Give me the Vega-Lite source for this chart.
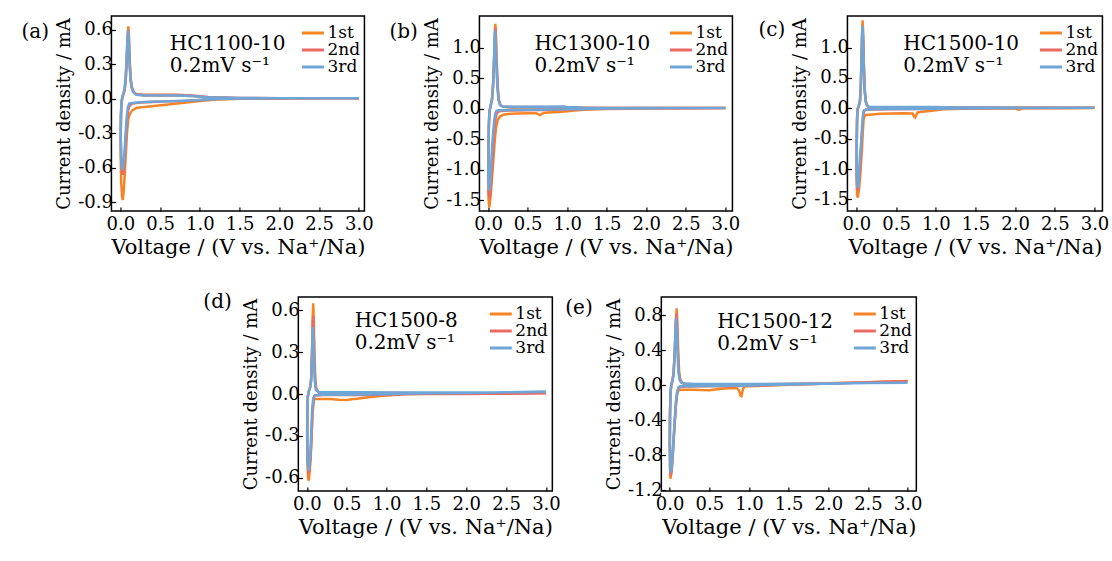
{
"$schema": "https://vega.github.io/schema/vega-lite/v6.json",
"padding": {"left": 20, "top": 15, "right": 0, "bottom": 0},
"config": {
  "font": "DejaVu Serif, serif",
  "locale": {"number": {"decimal": ".", "thousands": ",", "grouping": [3], "currency": ["$", ""], "minus": "-"}},
  "view": {"stroke": "black", "strokeWidth": 1.5},
  "axis": {"labelFont": "DejaVu Serif, serif", "labelFontSize": 18, "titleFont": "DejaVu Serif, serif", "titleFontSize": 21, "titleFontWeight": "normal", "labelColor": "black", "titleColor": "black", "tickColor": "black", "tickWidth": 1.2, "domain": false, "grid": false, "tickSize": -4, "tickCount": 20, "labelPadding": 3, "titlePadding": 3, "labelFlush": false, "labelOverlap": false, "labelBound": false},
  "axisX": {"labelPadding": 8},
  "axisY": {"titleFontSize": 18, "titlePadding": 4},
  "legend": {"orient": "top-right", "offset": 4, "symbolType": "stroke", "symbolSize": 484, "symbolStrokeWidth": 3, "labelFont": "DejaVu Serif, serif", "labelFontSize": 17, "labelColor": "black", "labelOffset": 2, "rowPadding": 0, "clipHeight": 12, "padding": 0, "titleFontSize": 7, "titlePadding": 0},
  "text": {"font": "DejaVu Serif, serif", "fontSize": 20, "color": "black"}
},
"datasets": {
"a": [
{"cycle":"1st","V":3.0,"I":0.005},{"cycle":"1st","V":2.5,"I":0.004},{"cycle":"1st","V":2.0,"I":0.002},{"cycle":"1st","V":1.5,"I":0.0},{"cycle":"1st","V":1.2,"I":-0.005},{"cycle":"1st","V":1.0,"I":-0.018},{"cycle":"1st","V":0.8,"I":-0.035},{"cycle":"1st","V":0.6,"I":-0.05},{"cycle":"1st","V":0.45,"I":-0.06},{"cycle":"1st","V":0.3,"I":-0.07},{"cycle":"1st","V":0.2,"I":-0.08},{"cycle":"1st","V":0.15,"I":-0.1},{"cycle":"1st","V":0.12,"I":-0.13},{"cycle":"1st","V":0.1,"I":-0.17},{"cycle":"1st","V":0.085,"I":-0.28},{"cycle":"1st","V":0.07,"I":-0.45},{"cycle":"1st","V":0.055,"I":-0.65},{"cycle":"1st","V":0.042,"I":-0.8},{"cycle":"1st","V":0.03,"I":-0.88},{"cycle":"1st","V":0.02,"I":-0.85},{"cycle":"1st","V":0.01,"I":-0.72},{"cycle":"1st","V":0.003,"I":-0.5},{"cycle":"1st","V":0.005,"I":-0.25},{"cycle":"1st","V":0.012,"I":-0.06},{"cycle":"1st","V":0.025,"I":0.01},{"cycle":"1st","V":0.04,"I":0.04},{"cycle":"1st","V":0.055,"I":0.08},{"cycle":"1st","V":0.07,"I":0.2},{"cycle":"1st","V":0.082,"I":0.4},{"cycle":"1st","V":0.093,"I":0.57},{"cycle":"1st","V":0.1,"I":0.63},{"cycle":"1st","V":0.107,"I":0.55},{"cycle":"1st","V":0.117,"I":0.33},{"cycle":"1st","V":0.13,"I":0.17},{"cycle":"1st","V":0.145,"I":0.1},{"cycle":"1st","V":0.165,"I":0.06},{"cycle":"1st","V":0.2,"I":0.04},{"cycle":"1st","V":0.3,"I":0.03},{"cycle":"1st","V":0.5,"I":0.03},{"cycle":"1st","V":0.7,"I":0.03},{"cycle":"1st","V":0.9,"I":0.025},{"cycle":"1st","V":1.1,"I":0.012},{"cycle":"1st","V":1.5,"I":0.006},{"cycle":"1st","V":2.0,"I":0.005},{"cycle":"1st","V":2.5,"I":0.005},{"cycle":"1st","V":3.0,"I":0.005},
{"cycle":"2nd","V":3.0,"I":0.005},{"cycle":"2nd","V":2.5,"I":0.004},{"cycle":"2nd","V":2.0,"I":0.003},{"cycle":"2nd","V":1.5,"I":0.001},{"cycle":"2nd","V":1.2,"I":-0.002},{"cycle":"2nd","V":1.0,"I":-0.01},{"cycle":"2nd","V":0.8,"I":-0.018},{"cycle":"2nd","V":0.6,"I":-0.022},{"cycle":"2nd","V":0.4,"I":-0.027},{"cycle":"2nd","V":0.25,"I":-0.032},{"cycle":"2nd","V":0.15,"I":-0.04},{"cycle":"2nd","V":0.12,"I":-0.055},{"cycle":"2nd","V":0.1,"I":-0.09},{"cycle":"2nd","V":0.085,"I":-0.18},{"cycle":"2nd","V":0.07,"I":-0.33},{"cycle":"2nd","V":0.055,"I":-0.5},{"cycle":"2nd","V":0.042,"I":-0.62},{"cycle":"2nd","V":0.03,"I":-0.66},{"cycle":"2nd","V":0.02,"I":-0.63},{"cycle":"2nd","V":0.01,"I":-0.52},{"cycle":"2nd","V":0.004,"I":-0.35},{"cycle":"2nd","V":0.006,"I":-0.15},{"cycle":"2nd","V":0.013,"I":-0.03},{"cycle":"2nd","V":0.025,"I":0.02},{"cycle":"2nd","V":0.04,"I":0.05},{"cycle":"2nd","V":0.055,"I":0.09},{"cycle":"2nd","V":0.07,"I":0.2},{"cycle":"2nd","V":0.082,"I":0.38},{"cycle":"2nd","V":0.092,"I":0.54},{"cycle":"2nd","V":0.098,"I":0.6},{"cycle":"2nd","V":0.106,"I":0.52},{"cycle":"2nd","V":0.116,"I":0.32},{"cycle":"2nd","V":0.128,"I":0.17},{"cycle":"2nd","V":0.143,"I":0.1},{"cycle":"2nd","V":0.163,"I":0.06},{"cycle":"2nd","V":0.2,"I":0.04},{"cycle":"2nd","V":0.3,"I":0.035},{"cycle":"2nd","V":0.5,"I":0.035},{"cycle":"2nd","V":0.7,"I":0.035},{"cycle":"2nd","V":0.9,"I":0.03},{"cycle":"2nd","V":1.1,"I":0.015},{"cycle":"2nd","V":1.5,"I":0.008},{"cycle":"2nd","V":2.0,"I":0.006},{"cycle":"2nd","V":2.5,"I":0.006},{"cycle":"2nd","V":3.0,"I":0.006},
{"cycle":"3rd","V":3.0,"I":0.006},{"cycle":"3rd","V":2.5,"I":0.005},{"cycle":"3rd","V":2.0,"I":0.004},{"cycle":"3rd","V":1.5,"I":0.002},{"cycle":"3rd","V":1.2,"I":-0.002},{"cycle":"3rd","V":1.0,"I":-0.01},{"cycle":"3rd","V":0.8,"I":-0.016},{"cycle":"3rd","V":0.6,"I":-0.02},{"cycle":"3rd","V":0.36,"I":-0.026},{"cycle":"3rd","V":0.2,"I":-0.032},{"cycle":"3rd","V":0.113,"I":-0.04},{"cycle":"3rd","V":0.095,"I":-0.07},{"cycle":"3rd","V":0.08,"I":-0.15},{"cycle":"3rd","V":0.065,"I":-0.3},{"cycle":"3rd","V":0.052,"I":-0.45},{"cycle":"3rd","V":0.04,"I":-0.57},{"cycle":"3rd","V":0.03,"I":-0.62},{"cycle":"3rd","V":0.02,"I":-0.6},{"cycle":"3rd","V":0.01,"I":-0.5},{"cycle":"3rd","V":0.004,"I":-0.33},{"cycle":"3rd","V":0.006,"I":-0.14},{"cycle":"3rd","V":0.013,"I":-0.03},{"cycle":"3rd","V":0.025,"I":0.02},{"cycle":"3rd","V":0.038,"I":0.046},{"cycle":"3rd","V":0.052,"I":0.09},{"cycle":"3rd","V":0.066,"I":0.2},{"cycle":"3rd","V":0.079,"I":0.37},{"cycle":"3rd","V":0.089,"I":0.52},{"cycle":"3rd","V":0.096,"I":0.595},{"cycle":"3rd","V":0.104,"I":0.52},{"cycle":"3rd","V":0.114,"I":0.32},{"cycle":"3rd","V":0.126,"I":0.17},{"cycle":"3rd","V":0.141,"I":0.1},{"cycle":"3rd","V":0.16,"I":0.06},{"cycle":"3rd","V":0.2,"I":0.035},{"cycle":"3rd","V":0.3,"I":0.03},{"cycle":"3rd","V":0.5,"I":0.03},{"cycle":"3rd","V":0.7,"I":0.03},{"cycle":"3rd","V":0.9,"I":0.025},{"cycle":"3rd","V":1.1,"I":0.014},{"cycle":"3rd","V":1.5,"I":0.008},{"cycle":"3rd","V":2.0,"I":0.006},{"cycle":"3rd","V":2.5,"I":0.006},{"cycle":"3rd","V":3.0,"I":0.006}
],
"b": [
{"cycle":"1st","V":3.0,"I":0.01},{"cycle":"1st","V":2.5,"I":0.006},{"cycle":"1st","V":2.0,"I":0.002},{"cycle":"1st","V":1.5,"I":-0.005},{"cycle":"1st","V":1.2,"I":-0.02},{"cycle":"1st","V":1.1,"I":-0.03},{"cycle":"1st","V":0.9,"I":-0.055},{"cycle":"1st","V":0.75,"I":-0.065},{"cycle":"1st","V":0.7,"I":-0.072},{"cycle":"1st","V":0.67,"I":-0.095},{"cycle":"1st","V":0.655,"I":-0.105},{"cycle":"1st","V":0.635,"I":-0.095},{"cycle":"1st","V":0.61,"I":-0.075},{"cycle":"1st","V":0.5,"I":-0.075},{"cycle":"1st","V":0.36,"I":-0.08},{"cycle":"1st","V":0.25,"I":-0.09},{"cycle":"1st","V":0.19,"I":-0.1},{"cycle":"1st","V":0.15,"I":-0.13},{"cycle":"1st","V":0.12,"I":-0.19},{"cycle":"1st","V":0.1,"I":-0.32},{"cycle":"1st","V":0.085,"I":-0.5},{"cycle":"1st","V":0.07,"I":-0.78},{"cycle":"1st","V":0.05,"I":-1.12},{"cycle":"1st","V":0.03,"I":-1.45},{"cycle":"1st","V":0.015,"I":-1.62},{"cycle":"1st","V":0.006,"I":-1.5},{"cycle":"1st","V":0.002,"I":-1.2},{"cycle":"1st","V":0.004,"I":-0.7},{"cycle":"1st","V":0.009,"I":-0.3},{"cycle":"1st","V":0.016,"I":-0.06},{"cycle":"1st","V":0.03,"I":0.04},{"cycle":"1st","V":0.048,"I":0.14},{"cycle":"1st","V":0.062,"I":0.38},{"cycle":"1st","V":0.074,"I":0.75},{"cycle":"1st","V":0.084,"I":1.15},{"cycle":"1st","V":0.091,"I":1.39},{"cycle":"1st","V":0.098,"I":1.25},{"cycle":"1st","V":0.107,"I":0.85},{"cycle":"1st","V":0.12,"I":0.4},{"cycle":"1st","V":0.135,"I":0.15},{"cycle":"1st","V":0.155,"I":0.06},{"cycle":"1st","V":0.19,"I":0.03},{"cycle":"1st","V":0.3,"I":0.02},{"cycle":"1st","V":0.5,"I":0.02},{"cycle":"1st","V":0.8,"I":0.02},{"cycle":"1st","V":1.0,"I":0.02},{"cycle":"1st","V":1.2,"I":0.012},{"cycle":"1st","V":1.5,"I":0.01},{"cycle":"1st","V":2.0,"I":0.01},{"cycle":"1st","V":2.5,"I":0.01},{"cycle":"1st","V":3.0,"I":0.01},
{"cycle":"2nd","V":3.0,"I":0.01},{"cycle":"2nd","V":2.5,"I":0.008},{"cycle":"2nd","V":2.0,"I":0.005},{"cycle":"2nd","V":1.5,"I":0.0},{"cycle":"2nd","V":1.2,"I":-0.008},{"cycle":"2nd","V":1.0,"I":-0.015},{"cycle":"2nd","V":0.8,"I":-0.02},{"cycle":"2nd","V":0.5,"I":-0.025},{"cycle":"2nd","V":0.3,"I":-0.03},{"cycle":"2nd","V":0.2,"I":-0.035},{"cycle":"2nd","V":0.14,"I":-0.045},{"cycle":"2nd","V":0.11,"I":-0.07},{"cycle":"2nd","V":0.095,"I":-0.15},{"cycle":"2nd","V":0.08,"I":-0.32},{"cycle":"2nd","V":0.065,"I":-0.6},{"cycle":"2nd","V":0.05,"I":-0.95},{"cycle":"2nd","V":0.035,"I":-1.25},{"cycle":"2nd","V":0.02,"I":-1.45},{"cycle":"2nd","V":0.01,"I":-1.43},{"cycle":"2nd","V":0.004,"I":-1.2},{"cycle":"2nd","V":0.004,"I":-0.7},{"cycle":"2nd","V":0.009,"I":-0.3},{"cycle":"2nd","V":0.016,"I":-0.06},{"cycle":"2nd","V":0.03,"I":0.04},{"cycle":"2nd","V":0.048,"I":0.14},{"cycle":"2nd","V":0.062,"I":0.37},{"cycle":"2nd","V":0.074,"I":0.73},{"cycle":"2nd","V":0.083,"I":1.1},{"cycle":"2nd","V":0.089,"I":1.33},{"cycle":"2nd","V":0.096,"I":1.2},{"cycle":"2nd","V":0.105,"I":0.82},{"cycle":"2nd","V":0.118,"I":0.38},{"cycle":"2nd","V":0.133,"I":0.15},{"cycle":"2nd","V":0.152,"I":0.06},{"cycle":"2nd","V":0.19,"I":0.03},{"cycle":"2nd","V":0.3,"I":0.025},{"cycle":"2nd","V":0.5,"I":0.025},{"cycle":"2nd","V":0.8,"I":0.025},{"cycle":"2nd","V":1.0,"I":0.022},{"cycle":"2nd","V":1.2,"I":0.014},{"cycle":"2nd","V":1.5,"I":0.01},{"cycle":"2nd","V":2.0,"I":0.01},{"cycle":"2nd","V":2.5,"I":0.01},{"cycle":"2nd","V":3.0,"I":0.01},
{"cycle":"3rd","V":3.0,"I":0.012},{"cycle":"3rd","V":2.5,"I":0.01},{"cycle":"3rd","V":2.0,"I":0.006},{"cycle":"3rd","V":1.5,"I":0.002},{"cycle":"3rd","V":1.2,"I":-0.005},{"cycle":"3rd","V":1.0,"I":-0.01},{"cycle":"3rd","V":0.8,"I":-0.015},{"cycle":"3rd","V":0.5,"I":-0.02},{"cycle":"3rd","V":0.2,"I":-0.025},{"cycle":"3rd","V":0.13,"I":-0.028},{"cycle":"3rd","V":0.105,"I":-0.035},{"cycle":"3rd","V":0.09,"I":-0.08},{"cycle":"3rd","V":0.078,"I":-0.18},{"cycle":"3rd","V":0.066,"I":-0.35},{"cycle":"3rd","V":0.055,"I":-0.52},{"cycle":"3rd","V":0.045,"I":-0.75},{"cycle":"3rd","V":0.035,"I":-1.0},{"cycle":"3rd","V":0.024,"I":-1.22},{"cycle":"3rd","V":0.015,"I":-1.34},{"cycle":"3rd","V":0.007,"I":-1.25},{"cycle":"3rd","V":0.003,"I":-0.95},{"cycle":"3rd","V":0.005,"I":-0.55},{"cycle":"3rd","V":0.01,"I":-0.2},{"cycle":"3rd","V":0.018,"I":-0.03},{"cycle":"3rd","V":0.032,"I":0.05},{"cycle":"3rd","V":0.049,"I":0.15},{"cycle":"3rd","V":0.062,"I":0.38},{"cycle":"3rd","V":0.073,"I":0.75},{"cycle":"3rd","V":0.081,"I":1.1},{"cycle":"3rd","V":0.087,"I":1.28},{"cycle":"3rd","V":0.094,"I":1.15},{"cycle":"3rd","V":0.103,"I":0.78},{"cycle":"3rd","V":0.116,"I":0.37},{"cycle":"3rd","V":0.131,"I":0.14},{"cycle":"3rd","V":0.15,"I":0.06},{"cycle":"3rd","V":0.19,"I":0.03},{"cycle":"3rd","V":0.3,"I":0.03},{"cycle":"3rd","V":0.5,"I":0.03},{"cycle":"3rd","V":0.8,"I":0.032},{"cycle":"3rd","V":0.95,"I":0.035},{"cycle":"3rd","V":1.0,"I":0.025},{"cycle":"3rd","V":1.2,"I":0.015},{"cycle":"3rd","V":1.5,"I":0.012},{"cycle":"3rd","V":2.0,"I":0.012},{"cycle":"3rd","V":2.5,"I":0.012},{"cycle":"3rd","V":3.0,"I":0.012}
],
"c": [
{"cycle":"1st","V":3.0,"I":0.005},{"cycle":"1st","V":2.5,"I":0.003},{"cycle":"1st","V":2.1,"I":0.0},{"cycle":"1st","V":2.06,"I":-0.02},{"cycle":"1st","V":2.03,"I":-0.02},{"cycle":"1st","V":2.0,"I":0.0},{"cycle":"1st","V":1.5,"I":-0.003},{"cycle":"1st","V":1.2,"I":-0.01},{"cycle":"1st","V":1.1,"I":-0.016},{"cycle":"1st","V":0.95,"I":-0.04},{"cycle":"1st","V":0.8,"I":-0.06},{"cycle":"1st","V":0.77,"I":-0.07},{"cycle":"1st","V":0.755,"I":-0.11},{"cycle":"1st","V":0.74,"I":-0.15},{"cycle":"1st","V":0.725,"I":-0.13},{"cycle":"1st","V":0.71,"I":-0.085},{"cycle":"1st","V":0.6,"I":-0.08},{"cycle":"1st","V":0.45,"I":-0.085},{"cycle":"1st","V":0.3,"I":-0.09},{"cycle":"1st","V":0.2,"I":-0.1},{"cycle":"1st","V":0.12,"I":-0.11},{"cycle":"1st","V":0.1,"I":-0.13},{"cycle":"1st","V":0.09,"I":-0.2},{"cycle":"1st","V":0.08,"I":-0.4},{"cycle":"1st","V":0.071,"I":-0.65},{"cycle":"1st","V":0.055,"I":-0.98},{"cycle":"1st","V":0.035,"I":-1.3},{"cycle":"1st","V":0.018,"I":-1.47},{"cycle":"1st","V":0.008,"I":-1.42},{"cycle":"1st","V":0.002,"I":-1.1},{"cycle":"1st","V":0.004,"I":-0.6},{"cycle":"1st","V":0.008,"I":-0.2},{"cycle":"1st","V":0.015,"I":-0.02},{"cycle":"1st","V":0.03,"I":0.04},{"cycle":"1st","V":0.045,"I":0.12},{"cycle":"1st","V":0.055,"I":0.35},{"cycle":"1st","V":0.064,"I":0.8},{"cycle":"1st","V":0.072,"I":1.25},{"cycle":"1st","V":0.078,"I":1.45},{"cycle":"1st","V":0.085,"I":1.25},{"cycle":"1st","V":0.094,"I":0.75},{"cycle":"1st","V":0.105,"I":0.32},{"cycle":"1st","V":0.118,"I":0.12},{"cycle":"1st","V":0.135,"I":0.05},{"cycle":"1st","V":0.155,"I":0.02},{"cycle":"1st","V":0.3,"I":0.015},{"cycle":"1st","V":0.6,"I":0.015},{"cycle":"1st","V":1.0,"I":0.015},{"cycle":"1st","V":1.2,"I":0.012},{"cycle":"1st","V":1.5,"I":0.01},{"cycle":"1st","V":2.0,"I":0.008},{"cycle":"1st","V":2.5,"I":0.008},{"cycle":"1st","V":3.0,"I":0.008},
{"cycle":"2nd","V":3.0,"I":0.008},{"cycle":"2nd","V":2.5,"I":0.006},{"cycle":"2nd","V":2.0,"I":0.004},{"cycle":"2nd","V":1.5,"I":0.002},{"cycle":"2nd","V":1.2,"I":-0.003},{"cycle":"2nd","V":1.0,"I":-0.008},{"cycle":"2nd","V":0.7,"I":-0.012},{"cycle":"2nd","V":0.4,"I":-0.015},{"cycle":"2nd","V":0.2,"I":-0.02},{"cycle":"2nd","V":0.12,"I":-0.025},{"cycle":"2nd","V":0.1,"I":-0.035},{"cycle":"2nd","V":0.09,"I":-0.08},{"cycle":"2nd","V":0.08,"I":-0.2},{"cycle":"2nd","V":0.07,"I":-0.42},{"cycle":"2nd","V":0.058,"I":-0.7},{"cycle":"2nd","V":0.045,"I":-0.98},{"cycle":"2nd","V":0.03,"I":-1.22},{"cycle":"2nd","V":0.018,"I":-1.35},{"cycle":"2nd","V":0.009,"I":-1.3},{"cycle":"2nd","V":0.003,"I":-1.0},{"cycle":"2nd","V":0.005,"I":-0.5},{"cycle":"2nd","V":0.009,"I":-0.15},{"cycle":"2nd","V":0.016,"I":-0.01},{"cycle":"2nd","V":0.03,"I":0.04},{"cycle":"2nd","V":0.045,"I":0.12},{"cycle":"2nd","V":0.055,"I":0.33},{"cycle":"2nd","V":0.064,"I":0.75},{"cycle":"2nd","V":0.071,"I":1.15},{"cycle":"2nd","V":0.077,"I":1.33},{"cycle":"2nd","V":0.084,"I":1.15},{"cycle":"2nd","V":0.093,"I":0.7},{"cycle":"2nd","V":0.104,"I":0.3},{"cycle":"2nd","V":0.117,"I":0.11},{"cycle":"2nd","V":0.134,"I":0.05},{"cycle":"2nd","V":0.155,"I":0.02},{"cycle":"2nd","V":0.3,"I":0.018},{"cycle":"2nd","V":0.6,"I":0.018},{"cycle":"2nd","V":1.0,"I":0.018},{"cycle":"2nd","V":1.2,"I":0.014},{"cycle":"2nd","V":1.5,"I":0.012},{"cycle":"2nd","V":2.0,"I":0.01},{"cycle":"2nd","V":2.5,"I":0.01},{"cycle":"2nd","V":3.0,"I":0.01},
{"cycle":"3rd","V":3.0,"I":0.01},{"cycle":"3rd","V":2.5,"I":0.008},{"cycle":"3rd","V":2.0,"I":0.006},{"cycle":"3rd","V":1.5,"I":0.003},{"cycle":"3rd","V":1.2,"I":-0.002},{"cycle":"3rd","V":1.0,"I":-0.006},{"cycle":"3rd","V":0.7,"I":-0.01},{"cycle":"3rd","V":0.4,"I":-0.012},{"cycle":"3rd","V":0.2,"I":-0.015},{"cycle":"3rd","V":0.12,"I":-0.02},{"cycle":"3rd","V":0.092,"I":-0.04},{"cycle":"3rd","V":0.082,"I":-0.12},{"cycle":"3rd","V":0.072,"I":-0.3},{"cycle":"3rd","V":0.06,"I":-0.55},{"cycle":"3rd","V":0.05,"I":-0.7},{"cycle":"3rd","V":0.04,"I":-0.9},{"cycle":"3rd","V":0.028,"I":-1.15},{"cycle":"3rd","V":0.017,"I":-1.31},{"cycle":"3rd","V":0.009,"I":-1.27},{"cycle":"3rd","V":0.003,"I":-0.98},{"cycle":"3rd","V":0.005,"I":-0.5},{"cycle":"3rd","V":0.009,"I":-0.15},{"cycle":"3rd","V":0.016,"I":-0.01},{"cycle":"3rd","V":0.03,"I":0.04},{"cycle":"3rd","V":0.045,"I":0.12},{"cycle":"3rd","V":0.055,"I":0.34},{"cycle":"3rd","V":0.064,"I":0.78},{"cycle":"3rd","V":0.071,"I":1.18},{"cycle":"3rd","V":0.077,"I":1.36},{"cycle":"3rd","V":0.083,"I":1.2},{"cycle":"3rd","V":0.092,"I":0.75},{"cycle":"3rd","V":0.103,"I":0.33},{"cycle":"3rd","V":0.116,"I":0.12},{"cycle":"3rd","V":0.133,"I":0.05},{"cycle":"3rd","V":0.155,"I":0.025},{"cycle":"3rd","V":0.3,"I":0.02},{"cycle":"3rd","V":0.6,"I":0.02},{"cycle":"3rd","V":1.0,"I":0.02},{"cycle":"3rd","V":1.2,"I":0.015},{"cycle":"3rd","V":1.5,"I":0.012},{"cycle":"3rd","V":2.0,"I":0.01},{"cycle":"3rd","V":2.5,"I":0.01},{"cycle":"3rd","V":3.0,"I":0.01}
],
"d": [
{"cycle":"1st","V":3.0,"I":0.008},{"cycle":"1st","V":2.5,"I":0.006},{"cycle":"1st","V":2.0,"I":0.004},{"cycle":"1st","V":1.5,"I":0.002},{"cycle":"1st","V":1.25,"I":0.0},{"cycle":"1st","V":1.1,"I":-0.008},{"cycle":"1st","V":0.92,"I":-0.015},{"cycle":"1st","V":0.75,"I":-0.025},{"cycle":"1st","V":0.6,"I":-0.035},{"cycle":"1st","V":0.5,"I":-0.043},{"cycle":"1st","V":0.4,"I":-0.042},{"cycle":"1st","V":0.29,"I":-0.036},{"cycle":"1st","V":0.2,"I":-0.035},{"cycle":"1st","V":0.12,"I":-0.035},{"cycle":"1st","V":0.09,"I":-0.04},{"cycle":"1st","V":0.08,"I":-0.08},{"cycle":"1st","V":0.07,"I":-0.15},{"cycle":"1st","V":0.055,"I":-0.37},{"cycle":"1st","V":0.04,"I":-0.52},{"cycle":"1st","V":0.025,"I":-0.62},{"cycle":"1st","V":0.015,"I":-0.6},{"cycle":"1st","V":0.008,"I":-0.5},{"cycle":"1st","V":0.003,"I":-0.3},{"cycle":"1st","V":0.006,"I":-0.12},{"cycle":"1st","V":0.012,"I":-0.02},{"cycle":"1st","V":0.025,"I":0.02},{"cycle":"1st","V":0.04,"I":0.05},{"cycle":"1st","V":0.055,"I":0.12},{"cycle":"1st","V":0.067,"I":0.35},{"cycle":"1st","V":0.075,"I":0.58},{"cycle":"1st","V":0.08,"I":0.65},{"cycle":"1st","V":0.086,"I":0.55},{"cycle":"1st","V":0.095,"I":0.3},{"cycle":"1st","V":0.105,"I":0.12},{"cycle":"1st","V":0.118,"I":0.04},{"cycle":"1st","V":0.15,"I":0.01},{"cycle":"1st","V":0.3,"I":0.008},{"cycle":"1st","V":0.6,"I":0.008},{"cycle":"1st","V":1.0,"I":0.008},{"cycle":"1st","V":1.5,"I":0.006},{"cycle":"1st","V":2.0,"I":0.005},{"cycle":"1st","V":2.5,"I":0.006},{"cycle":"1st","V":3.0,"I":0.008},
{"cycle":"2nd","V":3.0,"I":0.005},{"cycle":"2nd","V":2.5,"I":0.003},{"cycle":"2nd","V":2.0,"I":0.0},{"cycle":"2nd","V":1.5,"I":0.0},{"cycle":"2nd","V":1.2,"I":-0.002},{"cycle":"2nd","V":1.0,"I":-0.005},{"cycle":"2nd","V":0.7,"I":-0.008},{"cycle":"2nd","V":0.4,"I":-0.008},{"cycle":"2nd","V":0.2,"I":-0.008},{"cycle":"2nd","V":0.1,"I":-0.01},{"cycle":"2nd","V":0.085,"I":-0.03},{"cycle":"2nd","V":0.072,"I":-0.12},{"cycle":"2nd","V":0.06,"I":-0.3},{"cycle":"2nd","V":0.045,"I":-0.47},{"cycle":"2nd","V":0.03,"I":-0.55},{"cycle":"2nd","V":0.02,"I":-0.56},{"cycle":"2nd","V":0.012,"I":-0.5},{"cycle":"2nd","V":0.005,"I":-0.3},{"cycle":"2nd","V":0.007,"I":-0.1},{"cycle":"2nd","V":0.013,"I":-0.015},{"cycle":"2nd","V":0.025,"I":0.02},{"cycle":"2nd","V":0.04,"I":0.045},{"cycle":"2nd","V":0.054,"I":0.1},{"cycle":"2nd","V":0.065,"I":0.3},{"cycle":"2nd","V":0.073,"I":0.5},{"cycle":"2nd","V":0.078,"I":0.56},{"cycle":"2nd","V":0.084,"I":0.48},{"cycle":"2nd","V":0.093,"I":0.27},{"cycle":"2nd","V":0.103,"I":0.1},{"cycle":"2nd","V":0.116,"I":0.03},{"cycle":"2nd","V":0.15,"I":0.01},{"cycle":"2nd","V":0.3,"I":0.01},{"cycle":"2nd","V":0.6,"I":0.01},{"cycle":"2nd","V":1.0,"I":0.008},{"cycle":"2nd","V":1.5,"I":0.006},{"cycle":"2nd","V":2.0,"I":0.002},{"cycle":"2nd","V":2.5,"I":0.002},{"cycle":"2nd","V":3.0,"I":0.005},
{"cycle":"3rd","V":3.0,"I":0.015},{"cycle":"3rd","V":2.5,"I":0.012},{"cycle":"3rd","V":2.0,"I":0.008},{"cycle":"3rd","V":1.5,"I":0.005},{"cycle":"3rd","V":1.2,"I":0.002},{"cycle":"3rd","V":1.0,"I":-0.002},{"cycle":"3rd","V":0.7,"I":-0.004},{"cycle":"3rd","V":0.4,"I":-0.005},{"cycle":"3rd","V":0.2,"I":-0.006},{"cycle":"3rd","V":0.1,"I":-0.008},{"cycle":"3rd","V":0.08,"I":-0.03},{"cycle":"3rd","V":0.065,"I":-0.12},{"cycle":"3rd","V":0.05,"I":-0.35},{"cycle":"3rd","V":0.035,"I":-0.5},{"cycle":"3rd","V":0.022,"I":-0.55},{"cycle":"3rd","V":0.012,"I":-0.5},{"cycle":"3rd","V":0.005,"I":-0.3},{"cycle":"3rd","V":0.007,"I":-0.1},{"cycle":"3rd","V":0.013,"I":-0.015},{"cycle":"3rd","V":0.025,"I":0.02},{"cycle":"3rd","V":0.04,"I":0.04},{"cycle":"3rd","V":0.053,"I":0.09},{"cycle":"3rd","V":0.064,"I":0.25},{"cycle":"3rd","V":0.071,"I":0.42},{"cycle":"3rd","V":0.075,"I":0.48},{"cycle":"3rd","V":0.081,"I":0.42},{"cycle":"3rd","V":0.09,"I":0.24},{"cycle":"3rd","V":0.1,"I":0.09},{"cycle":"3rd","V":0.113,"I":0.03},{"cycle":"3rd","V":0.15,"I":0.012},{"cycle":"3rd","V":0.3,"I":0.012},{"cycle":"3rd","V":0.6,"I":0.012},{"cycle":"3rd","V":1.0,"I":0.01},{"cycle":"3rd","V":1.5,"I":0.01},{"cycle":"3rd","V":2.0,"I":0.01},{"cycle":"3rd","V":2.5,"I":0.012},{"cycle":"3rd","V":3.0,"I":0.016}
],
"e": [
{"cycle":"1st","V":3.0,"I":0.045},{"cycle":"1st","V":2.7,"I":0.04},{"cycle":"1st","V":2.5,"I":0.035},{"cycle":"1st","V":2.2,"I":0.025},{"cycle":"1st","V":2.0,"I":0.02},{"cycle":"1st","V":1.5,"I":0.005},{"cycle":"1st","V":1.2,"I":-0.005},{"cycle":"1st","V":1.0,"I":-0.01},{"cycle":"1st","V":0.95,"I":-0.012},{"cycle":"1st","V":0.925,"I":-0.04},{"cycle":"1st","V":0.905,"I":-0.125},{"cycle":"1st","V":0.89,"I":-0.115},{"cycle":"1st","V":0.875,"I":-0.06},{"cycle":"1st","V":0.85,"I":-0.035},{"cycle":"1st","V":0.8,"I":-0.03},{"cycle":"1st","V":0.65,"I":-0.04},{"cycle":"1st","V":0.5,"I":-0.057},{"cycle":"1st","V":0.4,"I":-0.055},{"cycle":"1st","V":0.29,"I":-0.05},{"cycle":"1st","V":0.2,"I":-0.05},{"cycle":"1st","V":0.14,"I":-0.05},{"cycle":"1st","V":0.11,"I":-0.06},{"cycle":"1st","V":0.095,"I":-0.1},{"cycle":"1st","V":0.08,"I":-0.22},{"cycle":"1st","V":0.06,"I":-0.48},{"cycle":"1st","V":0.04,"I":-0.78},{"cycle":"1st","V":0.022,"I":-1.0},{"cycle":"1st","V":0.01,"I":-1.07},{"cycle":"1st","V":0.004,"I":-0.95},{"cycle":"1st","V":0.001,"I":-0.7},{"cycle":"1st","V":0.004,"I":-0.35},{"cycle":"1st","V":0.01,"I":-0.1},{"cycle":"1st","V":0.02,"I":0.0},{"cycle":"1st","V":0.035,"I":0.05},{"cycle":"1st","V":0.05,"I":0.15},{"cycle":"1st","V":0.065,"I":0.4},{"cycle":"1st","V":0.078,"I":0.72},{"cycle":"1st","V":0.088,"I":0.88},{"cycle":"1st","V":0.097,"I":0.72},{"cycle":"1st","V":0.108,"I":0.38},{"cycle":"1st","V":0.12,"I":0.15},{"cycle":"1st","V":0.135,"I":0.06},{"cycle":"1st","V":0.155,"I":0.03},{"cycle":"1st","V":0.185,"I":0.016},{"cycle":"1st","V":0.3,"I":0.01},{"cycle":"1st","V":0.6,"I":0.01},{"cycle":"1st","V":1.0,"I":0.01},{"cycle":"1st","V":1.5,"I":0.012},{"cycle":"1st","V":2.0,"I":0.02},{"cycle":"1st","V":2.5,"I":0.035},{"cycle":"1st","V":3.0,"I":0.048},
{"cycle":"2nd","V":3.0,"I":0.045},{"cycle":"2nd","V":2.5,"I":0.035},{"cycle":"2nd","V":2.0,"I":0.02},{"cycle":"2nd","V":1.5,"I":0.008},{"cycle":"2nd","V":1.2,"I":0.0},{"cycle":"2nd","V":1.0,"I":-0.005},{"cycle":"2nd","V":0.7,"I":-0.01},{"cycle":"2nd","V":0.4,"I":-0.012},{"cycle":"2nd","V":0.2,"I":-0.015},{"cycle":"2nd","V":0.13,"I":-0.02},{"cycle":"2nd","V":0.11,"I":-0.035},{"cycle":"2nd","V":0.095,"I":-0.08},{"cycle":"2nd","V":0.08,"I":-0.2},{"cycle":"2nd","V":0.062,"I":-0.45},{"cycle":"2nd","V":0.045,"I":-0.72},{"cycle":"2nd","V":0.028,"I":-0.95},{"cycle":"2nd","V":0.015,"I":-1.03},{"cycle":"2nd","V":0.007,"I":-0.95},{"cycle":"2nd","V":0.002,"I":-0.65},{"cycle":"2nd","V":0.005,"I":-0.3},{"cycle":"2nd","V":0.011,"I":-0.08},{"cycle":"2nd","V":0.02,"I":0.0},{"cycle":"2nd","V":0.035,"I":0.05},{"cycle":"2nd","V":0.05,"I":0.14},{"cycle":"2nd","V":0.064,"I":0.37},{"cycle":"2nd","V":0.076,"I":0.67},{"cycle":"2nd","V":0.085,"I":0.82},{"cycle":"2nd","V":0.094,"I":0.68},{"cycle":"2nd","V":0.105,"I":0.36},{"cycle":"2nd","V":0.117,"I":0.14},{"cycle":"2nd","V":0.132,"I":0.06},{"cycle":"2nd","V":0.152,"I":0.03},{"cycle":"2nd","V":0.185,"I":0.018},{"cycle":"2nd","V":0.3,"I":0.012},{"cycle":"2nd","V":0.6,"I":0.012},{"cycle":"2nd","V":1.0,"I":0.012},{"cycle":"2nd","V":1.5,"I":0.014},{"cycle":"2nd","V":2.0,"I":0.022},{"cycle":"2nd","V":2.5,"I":0.035},{"cycle":"2nd","V":3.0,"I":0.045},
{"cycle":"3rd","V":3.0,"I":0.03},{"cycle":"3rd","V":2.5,"I":0.025},{"cycle":"3rd","V":2.0,"I":0.018},{"cycle":"3rd","V":1.5,"I":0.01},{"cycle":"3rd","V":1.2,"I":0.002},{"cycle":"3rd","V":1.0,"I":-0.003},{"cycle":"3rd","V":0.7,"I":-0.006},{"cycle":"3rd","V":0.4,"I":-0.008},{"cycle":"3rd","V":0.2,"I":-0.01},{"cycle":"3rd","V":0.13,"I":-0.012},{"cycle":"3rd","V":0.11,"I":-0.025},{"cycle":"3rd","V":0.095,"I":-0.07},{"cycle":"3rd","V":0.08,"I":-0.18},{"cycle":"3rd","V":0.062,"I":-0.42},{"cycle":"3rd","V":0.045,"I":-0.68},{"cycle":"3rd","V":0.03,"I":-0.9},{"cycle":"3rd","V":0.017,"I":-1.0},{"cycle":"3rd","V":0.008,"I":-0.93},{"cycle":"3rd","V":0.003,"I":-0.65},{"cycle":"3rd","V":0.005,"I":-0.3},{"cycle":"3rd","V":0.011,"I":-0.08},{"cycle":"3rd","V":0.02,"I":0.0},{"cycle":"3rd","V":0.035,"I":0.05},{"cycle":"3rd","V":0.05,"I":0.13},{"cycle":"3rd","V":0.063,"I":0.35},{"cycle":"3rd","V":0.073,"I":0.62},{"cycle":"3rd","V":0.08,"I":0.77},{"cycle":"3rd","V":0.089,"I":0.65},{"cycle":"3rd","V":0.1,"I":0.35},{"cycle":"3rd","V":0.112,"I":0.14},{"cycle":"3rd","V":0.127,"I":0.06},{"cycle":"3rd","V":0.148,"I":0.03},{"cycle":"3rd","V":0.185,"I":0.02},{"cycle":"3rd","V":0.3,"I":0.015},{"cycle":"3rd","V":0.6,"I":0.015},{"cycle":"3rd","V":1.0,"I":0.015},{"cycle":"3rd","V":1.5,"I":0.016},{"cycle":"3rd","V":2.0,"I":0.02},{"cycle":"3rd","V":2.5,"I":0.025},{"cycle":"3rd","V":3.0,"I":0.03}
]
},
"spacing": 33,
"center": true,
"resolve": {"scale": {"color": "independent"}, "legend": {"color": "independent"}},
"vconcat": [
{
"hconcat": [
{
"width": 253, "height": 195,
"view": {"stroke": "black", "strokeWidth": 1.5},
"data": {"name": "a"},
"layer": [
{"mark": {"type": "line", "strokeWidth": 2.5, "clip": true},
 "encoding": {
  "x": {"field": "V", "type": "quantitative", "scale": {"domain": [-0.113, 3.07], "nice": false, "zero": false}, "axis": {"values": [0, 0.5, 1, 1.5, 2, 2.5, 3], "tickCount": 20, "format": ".1f", "labelOverlap": false, "title": "Voltage / (V vs. Na⁺/Na)"}},
  "y": {"field": "I", "type": "quantitative", "scale": {"domain": [-0.975, 0.72], "nice": false, "zero": false}, "axis": {"values": [-0.9, -0.6, -0.3, 0, 0.3, 0.6], "tickCount": 20, "format": ".1f", "labelOverlap": false, "title": "Current density / mA"}},
  "color": {"field": "cycle", "type": "nominal", "scale": {"domain": ["1st", "2nd", "3rd"], "range": ["#F58426", "#EC6A64", "#6FA6D8"]}, "legend": {"title": " "}},
  "order": {"value": null}}},
{"data": {"values": [{}]},
 "mark": {"type": "text", "text": ["HC1100-10", "0.2mV s⁻¹"], "align": "left", "baseline": "alphabetic", "lineHeight": 22},
 "encoding": {"x": {"datum": 0.62}, "y": {"datum": 0.427}}},
{"data": {"values": [{}]},
 "mark": {"type": "text", "text": "(a)", "align": "left", "baseline": "middle", "clip": false},
 "encoding": {"x": {"datum": -1.245}, "y": {"datum": 0.581}}}
]
},
{
"width": 253, "height": 195,
"view": {"stroke": "black", "strokeWidth": 1.5},
"data": {"name": "b"},
"layer": [
{"mark": {"type": "line", "strokeWidth": 2.5, "clip": true},
 "encoding": {
  "x": {"field": "V", "type": "quantitative", "scale": {"domain": [-0.11, 3.09], "nice": false, "zero": false}, "axis": {"values": [0, 0.5, 1, 1.5, 2, 2.5, 3], "tickCount": 20, "format": ".1f", "labelOverlap": false, "title": "Voltage / (V vs. Na⁺/Na)"}},
  "y": {"field": "I", "type": "quantitative", "scale": {"domain": [-1.68, 1.52], "nice": false, "zero": false}, "axis": {"values": [-1.5, -1, -0.5, 0, 0.5, 1], "tickCount": 20, "format": ".1f", "labelOverlap": false, "title": "Current density / mA"}},
  "color": {"field": "cycle", "type": "nominal", "scale": {"domain": ["1st", "2nd", "3rd"], "range": ["#F58426", "#EC6A64", "#6FA6D8"]}, "legend": {"title": " "}},
  "order": {"value": null}}},
{"data": {"values": [{}]},
 "mark": {"type": "text", "text": ["HC1300-10", "0.2mV s⁻¹"], "align": "left", "baseline": "alphabetic", "lineHeight": 22},
 "encoding": {"x": {"datum": 0.585}, "y": {"datum": 0.967}}},
{"data": {"values": [{}]},
 "mark": {"type": "text", "text": "(b)", "align": "left", "baseline": "middle", "clip": false},
 "encoding": {"x": {"datum": -1.248}, "y": {"datum": 1.262}}}
]
},
{
"width": 255, "height": 195,
"view": {"stroke": "black", "strokeWidth": 1.5},
"data": {"name": "c"},
"layer": [
{"mark": {"type": "line", "strokeWidth": 2.5, "clip": true},
 "encoding": {
  "x": {"field": "V", "type": "quantitative", "scale": {"domain": [-0.113, 3.1], "nice": false, "zero": false}, "axis": {"values": [0, 0.5, 1, 1.5, 2, 2.5, 3], "tickCount": 20, "format": ".1f", "labelOverlap": false, "title": "Voltage / (V vs. Na⁺/Na)"}},
  "y": {"field": "I", "type": "quantitative", "scale": {"domain": [-1.69, 1.52], "nice": false, "zero": false}, "axis": {"values": [-1.5, -1, -0.5, 0, 0.5, 1], "tickCount": 20, "format": ".1f", "labelOverlap": false, "title": "Current density / mA"}},
  "color": {"field": "cycle", "type": "nominal", "scale": {"domain": ["1st", "2nd", "3rd"], "range": ["#F58426", "#EC6A64", "#6FA6D8"]}, "legend": {"title": " "}},
  "order": {"value": null}}},
{"data": {"values": [{}]},
 "mark": {"type": "text", "text": ["HC1500-10", "0.2mV s⁻¹"], "align": "left", "baseline": "alphabetic", "lineHeight": 22},
 "encoding": {"x": {"datum": 0.59}, "y": {"datum": 0.955}}},
{"data": {"values": [{}]},
 "mark": {"type": "text", "text": "(c)", "align": "left", "baseline": "middle", "clip": false},
 "encoding": {"x": {"datum": -1.234}, "y": {"datum": 1.289}}}
]
}
],
"spacing": 115,
"bounds": "flush",
"resolve": {"scale": {"color": "independent"}, "legend": {"color": "independent"}}
},
{
"hconcat": [
{
"width": 254, "height": 194,
"view": {"stroke": "black", "strokeWidth": 1.5},
"data": {"name": "d"},
"layer": [
{"mark": {"type": "line", "strokeWidth": 2.5, "clip": true},
 "encoding": {
  "x": {"field": "V", "type": "quantitative", "scale": {"domain": [-0.107, 3.08], "nice": false, "zero": false}, "axis": {"values": [0, 0.5, 1, 1.5, 2, 2.5, 3], "tickCount": 20, "format": ".1f", "labelOverlap": false, "title": "Voltage / (V vs. Na⁺/Na)"}},
  "y": {"field": "I", "type": "quantitative", "scale": {"domain": [-0.695, 0.695], "nice": false, "zero": false}, "axis": {"values": [-0.6, -0.3, 0, 0.3, 0.6], "tickCount": 20, "format": ".1f", "labelOverlap": false, "title": "Current density / mA"}},
  "color": {"field": "cycle", "type": "nominal", "scale": {"domain": ["1st", "2nd", "3rd"], "range": ["#F58426", "#EC6A64", "#6FA6D8"]}, "legend": {"title": " "}},
  "order": {"value": null}}},
{"data": {"values": [{}]},
 "mark": {"type": "text", "text": ["HC1500-8", "0.2mV s⁻¹"], "align": "left", "baseline": "alphabetic", "lineHeight": 22},
 "encoding": {"x": {"datum": 0.6}, "y": {"datum": 0.48}}},
{"data": {"values": [{}]},
 "mark": {"type": "text", "text": "(d)", "align": "left", "baseline": "middle", "clip": false},
 "encoding": {"x": {"datum": -1.299}, "y": {"datum": 0.659}}}
]
},
{
"width": 255, "height": 194,
"view": {"stroke": "black", "strokeWidth": 1.5},
"data": {"name": "e"},
"layer": [
{"mark": {"type": "line", "strokeWidth": 2.5, "clip": true},
 "encoding": {
  "x": {"field": "V", "type": "quantitative", "scale": {"domain": [-0.105, 3.11], "nice": false, "zero": false}, "axis": {"values": [0, 0.5, 1, 1.5, 2, 2.5, 3], "tickCount": 20, "format": ".1f", "labelOverlap": false, "title": "Voltage / (V vs. Na⁺/Na)"}},
  "y": {"field": "I", "type": "quantitative", "scale": {"domain": [-1.21, 1.01], "nice": false, "zero": false}, "axis": {"values": [-1.2, -0.8, -0.4, 0, 0.4, 0.8], "tickCount": 20, "format": ".1f", "labelOverlap": false, "title": "Current density / mA"}},
  "color": {"field": "cycle", "type": "nominal", "scale": {"domain": ["1st", "2nd", "3rd"], "range": ["#F58426", "#EC6A64", "#6FA6D8"]}, "legend": {"title": " "}},
  "order": {"value": null}}},
{"data": {"values": [{}]},
 "mark": {"type": "text", "text": ["HC1500-12", "0.2mV s⁻¹"], "align": "left", "baseline": "alphabetic", "lineHeight": 22},
 "encoding": {"x": {"datum": 0.6}, "y": {"datum": 0.656}}},
{"data": {"values": [{}]},
 "mark": {"type": "text", "text": "(e)", "align": "left", "baseline": "middle", "clip": false},
 "encoding": {"x": {"datum": -1.316}, "y": {"datum": 0.884}}}
]
}
],
"spacing": 109,
"bounds": "flush",
"resolve": {"scale": {"color": "independent"}, "legend": {"color": "independent"}}
}
]
}
